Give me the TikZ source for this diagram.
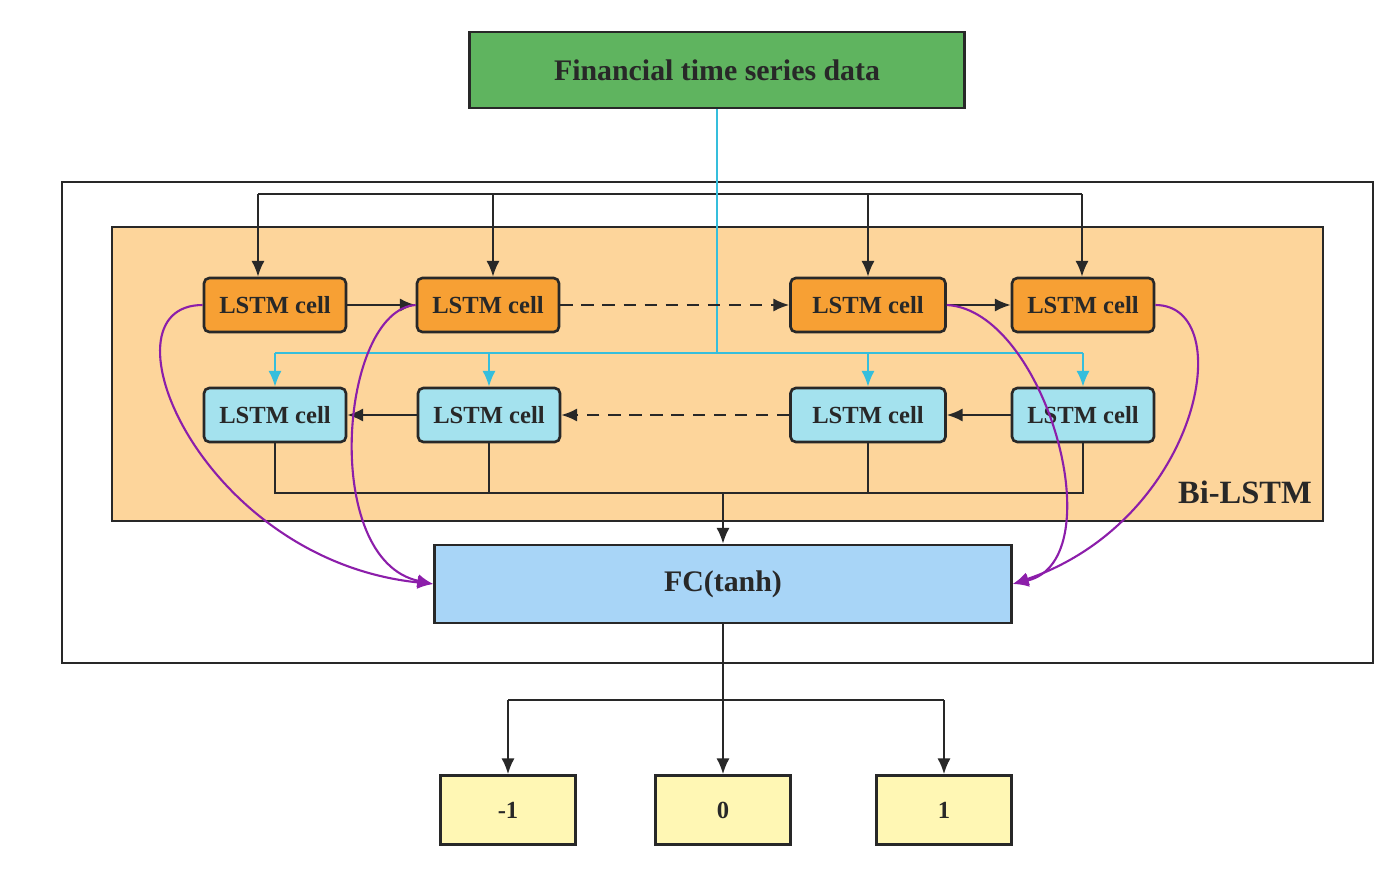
\documentclass[tikz,border=0pt]{standalone}
\usepackage{fontspec}
\setmainfont{Liberation Serif}
\usetikzlibrary{arrows.meta}

\definecolor{datagreen}{RGB}{95,180,95}
\definecolor{fwdorange}{RGB}{247,160,52}
\definecolor{bwdcyan}{RGB}{164,226,238}
\definecolor{bilstmbg}{RGB}{253,213,155}
\definecolor{fcblue}{RGB}{168,213,247}
\definecolor{outyellow}{RGB}{255,247,180}
\definecolor{cyanline}{RGB}{53,190,220}
\definecolor{purpleline}{RGB}{140,30,170}
\definecolor{edge}{RGB}{40,40,40}

\begin{document}
\begin{tikzpicture}[x=0.02cm, y=-0.02cm,
	every node/.style={text=edge, font=\bfseries},
	cellf/.style={draw=edge, line width=1.5pt, rounded corners=3pt, fill=fwdorange, minimum width=2.84cm, minimum height=1.08cm, inner sep=0pt, font=\fontsize{14}{16}\selectfont\bfseries},
	cellb/.style={cellf, fill=bwdcyan},
	outbox/.style={draw=edge, line width=1.5pt, fill=outyellow, minimum width=2.7cm, minimum height=1.38cm, inner sep=0pt, font=\fontsize{14}{16}\selectfont\bfseries},
	arr/.style={draw=edge, line width=1.2pt, -{Latex[length=9pt,width=7.5pt]}},
	carr/.style={draw=cyanline, line width=1.2pt, -{Latex[length=9pt,width=7.5pt]}},
	parr/.style={draw=purpleline, line width=1.2pt, -{Latex[length=9pt,width=7.5pt]}}]
	\useasboundingbox (0,0) rectangle (1396,886);

	\draw[edge, line width=1.5pt] (62,182) rectangle (1373,663);
	\draw[edge, line width=1.5pt, fill=bilstmbg] (112,227) rectangle (1323,521);
	\node[font=\fontsize{18.5}{20}\selectfont\bfseries] (bilabel) at (1245,492) {Bi-LSTM};

	\node[draw=edge, line width=1.5pt, fill=datagreen, minimum width=9.9cm, minimum height=1.52cm, font=\fontsize{17}{19}\selectfont\bfseries] (data) at (717,70) {Financial time series data};

	\node[cellf] (f1) at (275,305) {LSTM cell};
	\node[cellf] (f2) at (488,305) {LSTM cell};
	\node[cellf, minimum width=3.1cm] (f3) at (868,305) {LSTM cell};
	\node[cellf] (f4) at (1083,305) {LSTM cell};

	\node[cellb] (b1) at (275,415) {LSTM cell};
	\node[cellb] (b2) at (489,415) {LSTM cell};
	\node[cellb, minimum width=3.1cm] (b3) at (868,415) {LSTM cell};
	\node[cellb] (b4) at (1083,415) {LSTM cell};

	\node[draw=edge, line width=1.5pt, fill=fcblue, minimum width=11.54cm, minimum height=1.56cm, font=\fontsize{17}{19}\selectfont\bfseries] (fc) at (723,584) {FC(tanh)};

	\node[outbox] (o1) at (508,810) {-1};
	\node[outbox] (o2) at (723,810) {0};
	\node[outbox] (o3) at (944,810) {1};

	\coordinate (top1) at (258,194);
	\coordinate (top2) at (493,194);
	\coordinate (top3) at (868,194);
	\coordinate (top4) at (1082,194);
	\draw[edge, line width=1.2pt] (top1) -- (top4);
	\draw[arr] (top1) -- (top1 |- f1.north);
	\draw[arr] (top2) -- (top2 |- f2.north);
	\draw[arr] (top3) -- (f3.north);
	\draw[arr] (top4) -- (top4 |- f4.north);

	\coordinate (cy) at (717,353);
	\draw[cyanline, line width=1.2pt] (data.south) -- (cy);
	\draw[cyanline, line width=1.2pt] (cy -| b1) -- (cy -| b4);
	\draw[carr] (cy -| b1) -- (b1.north);
	\draw[carr] (cy -| b2) -- (b2.north);
	\draw[carr] (cy -| b3) -- (b3.north);
	\draw[carr] (cy -| b4) -- (b4.north);

	\draw[arr] (f1.east) -- (f2.west);
	\draw[arr, dash pattern=on 7pt off 5pt] (f2.east) -- (f3.west);
	\draw[arr] (f3.east) -- (f4.west);
	\draw[arr] (b4.west) -- (b3.east);
	\draw[arr, dash pattern=on 7pt off 5pt] (b3.west) -- (b2.east);
	\draw[arr] (b2.west) -- (b1.east);

	\coordinate (bot) at (723,493);
	\draw[edge, line width=1.2pt] (b1.south) -- (b1.south |- bot) -- (b4.south |- bot) -- (b4.south);
	\draw[edge, line width=1.2pt] (b2.south) -- (b2.south |- bot);
	\draw[edge, line width=1.2pt] (b3.south) -- (b3.south |- bot);
	\draw[arr] (bot) -- (fc.north);

	\coordinate (split) at (723,700);
	\draw[arr] (fc.south) -- (o2.north);
	\draw[edge, line width=1.2pt] (split -| o1) -- (split -| o3);
	\draw[arr] (split -| o1) -- (o1.north);
	\draw[arr] (split -| o3) -- (o3.north);

	\draw[parr] (f1.west) .. controls (95,305) and (200,560) .. (fc.west);
	\draw[parr] (f2.west) .. controls (340,310) and (320,560) .. (fc.west);
	\draw[parr] (f3.east) .. controls (1045,310) and (1115,560) .. (fc.east);
	\draw[parr] (f4.east) .. controls (1240,305) and (1200,520) .. (fc.east);
\end{tikzpicture}
\end{document}
